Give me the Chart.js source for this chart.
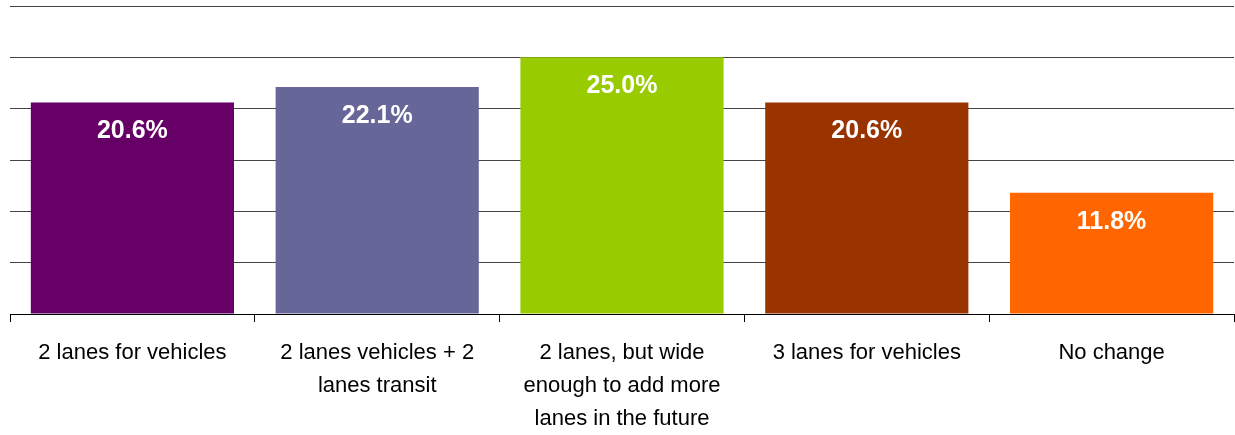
<!DOCTYPE html>
<html>
<head>
<meta charset="utf-8">
<script src="https://cdn.jsdelivr.net/npm/chart.js@4"></script>
<style>
  html, body { margin: 0; padding: 0; background: #fff; }
  #wrap { width: 1235px; height: 435px; }
</style>
</head>
<body>
<div id="wrap"><canvas id="chart"></canvas></div>
<script>
const categories = [
    '2 lanes for vehicles',
    ['2 lanes vehicles + 2', 'lanes transit'],
    ['2 lanes, but wide', 'enough to add more', 'lanes in the future'],
    '3 lanes for vehicles',
    'No change'
]
const shares = [20.6, 22.1, 25.0, 20.6, 11.8]
const barColors = ['#660066', '#666699', '#99CC00', '#993300', '#FF6600']

// white percentage written inside the top of every bar
const valueLabels = {
    id: 'valueLabels',
    afterDatasetsDraw(chart) {
        const ctx = chart.ctx
        const meta = chart.getDatasetMeta(0)
        ctx.save()
        ctx.fillStyle = '#ffffff'
        ctx.font = 'bold 25px "Liberation Sans", Arial, sans-serif'
        ctx.textAlign = 'center'
        ctx.textBaseline = 'middle'
        meta.data.forEach(function(bar, i) {
            ctx.fillText(shares[i].toFixed(1) + '%', bar.x, bar.y + 29)
        })
        ctx.restore()
    }
}

const config = {
    type: 'bar',
    data: {
        labels: categories,
        datasets: [{
            data: shares,
            backgroundColor: barColors,
            borderWidth: 0,
            barPercentage: 0.83,
            categoryPercentage: 1.0
        }]
    },
    options: {
        responsive: true,
        maintainAspectRatio: false,
        animation: false,
        layout: {
            padding: { left: 10, right: 1, top: 6, bottom: -14 }
        },
        plugins: {
            legend: { display: false },
            tooltip: { enabled: false }
        },
        scales: {
            y: {
                min: 0,
                max: 30,
                ticks: { display: false, stepSize: 5 },
                grid: { color: '#444444', lineWidth: 1, drawTicks: false },
                border: { display: false }
            },
            x: {
                grid: {
                    offset: true,
                    drawOnChartArea: false,
                    color: '#000000',
                    tickLength: 8
                },
                border: { display: true, color: '#000000', width: 1 },
                ticks: {
                    color: '#000000',
                    padding: 14,
                    maxRotation: 0,
                    autoSkip: false,
                    font: { family: '"Liberation Sans", Arial, sans-serif', size: 22, lineHeight: 1.5 }
                }
            }
        }
    },
    plugins: [valueLabels]
}

new Chart(document.getElementById('chart'), config)
</script>
</body>
</html>
